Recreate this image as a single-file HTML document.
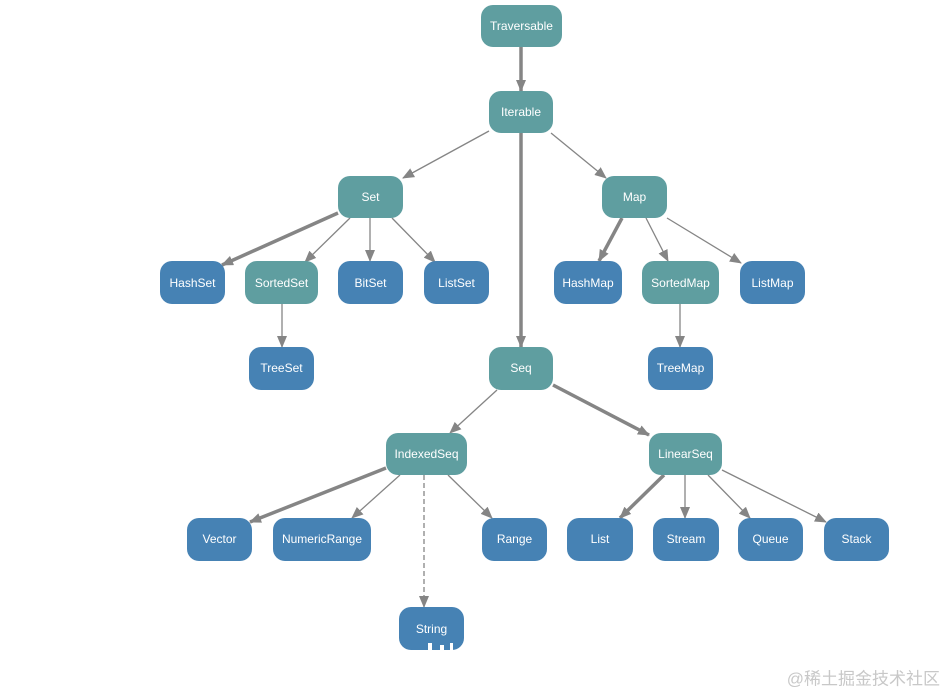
<!DOCTYPE html>
<html><head><meta charset="utf-8"><style>
html,body{margin:0;padding:0;background:#fff;}
svg{display:block;}
text{font-family:"Liberation Sans",Arial,sans-serif;font-size:12px;fill:#fff;text-anchor:middle;dominant-baseline:central;}
.wm{font-family:"Liberation Sans","Noto Sans CJK SC",sans-serif;font-size:17px;fill:#c8c8c8;text-anchor:end;}
</style></head><body>
<svg width="946" height="690" viewBox="0 0 946 690" xmlns="http://www.w3.org/2000/svg">
<defs>
<marker id="a" markerUnits="userSpaceOnUse" markerWidth="12" markerHeight="10" refX="11" refY="5" orient="auto">
<path d="M0,0 L12,5 L0,10 z" fill="#858585"/></marker>
</defs>
<g stroke="#858585" fill="none" stroke-width="1.3" marker-end="url(#a)">
<line x1="521" y1="47" x2="521" y2="91" stroke-width="3.5"/>
<line x1="489" y1="131" x2="403" y2="178"/>
<line x1="521" y1="133" x2="521" y2="347" stroke-width="3.5"/>
<line x1="551" y1="133" x2="606" y2="178"/>
<line x1="338" y1="213" x2="222" y2="265" stroke-width="3.5"/>
<line x1="350" y1="218" x2="305" y2="262"/>
<line x1="370" y1="218" x2="370" y2="261"/>
<line x1="392" y1="218" x2="435" y2="262"/>
<line x1="622" y1="218" x2="599" y2="261" stroke-width="3.5"/>
<line x1="646" y1="218" x2="668" y2="261"/>
<line x1="667" y1="218" x2="741" y2="263"/>
<line x1="282" y1="304" x2="282" y2="347"/>
<line x1="680" y1="304" x2="680" y2="347"/>
<line x1="497" y1="390" x2="450" y2="433"/>
<line x1="553" y1="385" x2="649" y2="435" stroke-width="3.5"/>
<line x1="386" y1="468" x2="250" y2="522" stroke-width="3.5"/>
<line x1="400" y1="475" x2="352" y2="518"/>
<line x1="424" y1="475" x2="424" y2="607" stroke-dasharray="5,3"/>
<line x1="448" y1="475" x2="492" y2="518"/>
<line x1="664" y1="475" x2="620" y2="518" stroke-width="3.5"/>
<line x1="685" y1="475" x2="685" y2="518"/>
<line x1="708" y1="475" x2="750" y2="518"/>
<line x1="722" y1="470" x2="826" y2="522"/>
</g>
<g>
<rect x="481" y="5" width="81" height="42" rx="12" fill="#5f9ea0"/><text x="521.5" y="26">Traversable</text>
<rect x="489" y="91" width="64" height="42" rx="12" fill="#5f9ea0"/><text x="521" y="112">Iterable</text>
<rect x="338" y="176" width="65" height="42" rx="12" fill="#5f9ea0"/><text x="370.5" y="197">Set</text>
<rect x="602" y="176" width="65" height="42" rx="12" fill="#5f9ea0"/><text x="634.5" y="197">Map</text>
<rect x="160" y="261" width="65" height="43" rx="12" fill="#4682b4"/><text x="192.5" y="283">HashSet</text>
<rect x="245" y="261" width="73" height="43" rx="12" fill="#5f9ea0"/><text x="281.5" y="283">SortedSet</text>
<rect x="338" y="261" width="65" height="43" rx="12" fill="#4682b4"/><text x="370.5" y="283">BitSet</text>
<rect x="424" y="261" width="65" height="43" rx="12" fill="#4682b4"/><text x="456.5" y="283">ListSet</text>
<rect x="554" y="261" width="68" height="43" rx="12" fill="#4682b4"/><text x="588" y="283">HashMap</text>
<rect x="642" y="261" width="77" height="43" rx="12" fill="#5f9ea0"/><text x="680.5" y="283">SortedMap</text>
<rect x="740" y="261" width="65" height="43" rx="12" fill="#4682b4"/><text x="772.5" y="283">ListMap</text>
<rect x="249" y="347" width="65" height="43" rx="12" fill="#4682b4"/><text x="281.5" y="368">TreeSet</text>
<rect x="648" y="347" width="65" height="43" rx="12" fill="#4682b4"/><text x="680.5" y="368">TreeMap</text>
<rect x="489" y="347" width="64" height="43" rx="12" fill="#5f9ea0"/><text x="521" y="368">Seq</text>
<rect x="386" y="433" width="81" height="42" rx="12" fill="#5f9ea0"/><text x="426.5" y="454">IndexedSeq</text>
<rect x="649" y="433" width="73" height="42" rx="12" fill="#5f9ea0"/><text x="685.5" y="454">LinearSeq</text>
<rect x="187" y="518" width="65" height="43" rx="12" fill="#4682b4"/><text x="219.5" y="539">Vector</text>
<rect x="273" y="518" width="98" height="43" rx="12" fill="#4682b4"/><text x="322" y="539">NumericRange</text>
<rect x="482" y="518" width="65" height="43" rx="12" fill="#4682b4"/><text x="514.5" y="539">Range</text>
<rect x="567" y="518" width="66" height="43" rx="12" fill="#4682b4"/><text x="600" y="539">List</text>
<rect x="653" y="518" width="66" height="43" rx="12" fill="#4682b4"/><text x="686" y="539">Stream</text>
<rect x="738" y="518" width="65" height="43" rx="12" fill="#4682b4"/><text x="770.5" y="539">Queue</text>
<rect x="824" y="518" width="65" height="43" rx="12" fill="#4682b4"/><text x="856.5" y="539">Stack</text>
<rect x="399" y="607" width="65" height="43" rx="12" fill="#4682b4"/><text x="431.5" y="629">String</text>
<rect x="428" y="643" width="4" height="7" fill="#fff"/><rect x="440" y="645" width="4" height="5" fill="#fff"/><rect x="450" y="643" width="3" height="7" fill="#fff"/>
</g>
<text class="wm" x="940" y="679">@稀土掘金技术社区</text>
</svg>
</body></html>
